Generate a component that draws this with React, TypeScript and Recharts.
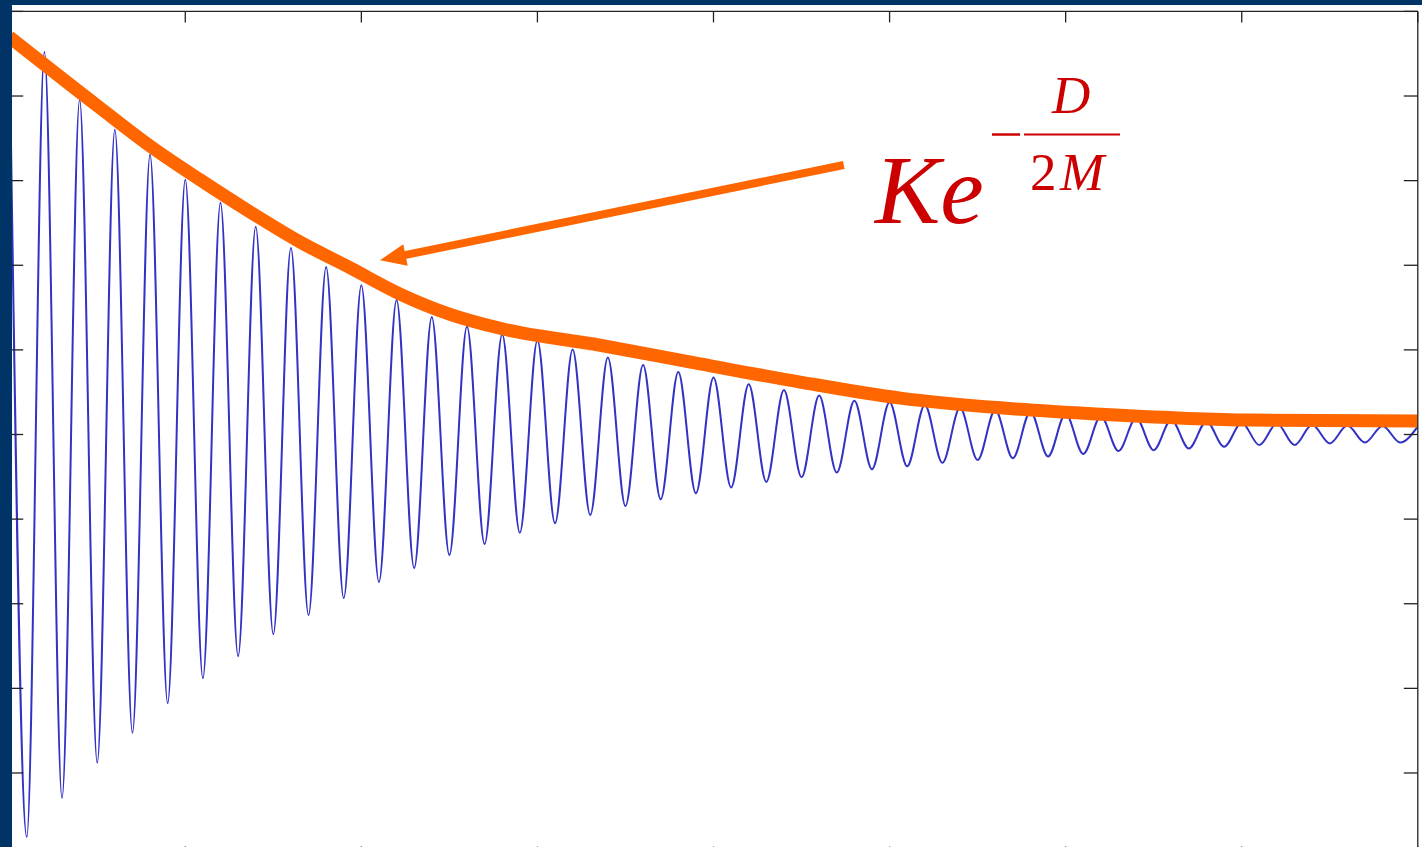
import { LineChart, Line, XAxis, YAxis, ReferenceLine } from "recharts";

// extrema of the damped swing: time in cycles, amplitude normalised to 1
const swingTimes = [
  0, 0.5, 1, 1.5, 2, 2.5, 3, 3.5, 4, 4.5, 5, 5.5, 6, 6.5, 7, 7.5, 8, 8.5, 9, 9.5,
  10, 10.5, 11, 11.5, 12, 12.5, 13, 13.5, 14, 14.5, 15, 15.5, 16, 16.5, 17, 17.5, 18, 18.5, 19, 19.5,
  20, 20.5, 21, 21.5, 22, 22.5, 23, 23.5, 24, 24.5, 25, 25.5, 26, 26.5, 27, 27.5, 28, 28.5, 29, 29.5,
  30, 30.5, 31, 31.5, 32, 32.5, 33, 33.5, 34, 34.5, 35, 35.5, 36, 36.5, 37, 37.5, 38, 38.5, 39, 39.5,
  40,
];
const swingValues = [
  0.98, -0.951, 0.904, -0.859, 0.791, -0.776, 0.72, -0.705, 0.661, -0.635,
  0.602, -0.576, 0.548, -0.524, 0.491, -0.472, 0.441, -0.427, 0.396, -0.387,
  0.353, -0.349, 0.318, -0.316, 0.278, -0.285, 0.255, -0.259, 0.237, -0.232,
  0.222, -0.21, 0.201, -0.19, 0.182, -0.169, 0.164, -0.153, 0.148, -0.139,
  0.135, -0.125, 0.119, -0.112, 0.105, -0.101, 0.092, -0.09, 0.08, -0.082,
  0.076, -0.075, 0.07, -0.067, 0.063, -0.06, 0.058, -0.056, 0.054, -0.052,
  0.049, -0.046, 0.043, -0.039, 0.039, -0.037, 0.035, -0.033, 0.031, -0.029,
  0.028, -0.025, 0.026, -0.025, 0.023, -0.021, 0.021, -0.019, 0.02, -0.019,
  0.019,
];

// hand-drawn decay envelope K·e^(-D/2M)
const envelopeTimes = [0, 2.58, 4, 5.42, 6.84, 8.26, 9.68, 11.1, 12.52, 13.94, 16.78, 19.62, 22.46, 25.31, 28.15, 30.98, 35.24, 40];
const envelopeValues = [0.94, 0.772, 0.682, 0.602, 0.526, 0.455, 0.394, 0.332, 0.284, 0.251, 0.211, 0.167, 0.124, 0.086, 0.063, 0.048, 0.034, 0.032];

const timeTicks = [0, 5, 10, 15, 20, 25, 30, 35, 40];
const amplitudeTicks = [-1, -0.8, -0.6, -0.4, -0.2, 0, 0.2, 0.4, 0.6, 0.8, 1];

// arrow pointing from the formula to the envelope
const arrowTail = { t: 23.7, v: 0.637 };
const arrowTip = { t: 10.53, v: 0.412 };

const swing = swingTimes.map((t, i) => ({ t, v: swingValues[i] }));
const envelope = envelopeTimes.map((t, i) => ({ t, v: envelopeValues[i] }));

const ORANGE = "#ff6600";
const RED = "#cc0000";
const NAVY = "#003366";
const AXIS = "#222222";
const SERIF = "'Liberation Serif', 'Times New Roman', serif";

const blank = () => "";

function Arrow(props: any) {
  const { x1, y1, x2, y2 } = props;
  const len = Math.hypot(x2 - x1, y2 - y1);
  const ux = (x2 - x1) / len;
  const uy = (y2 - y1) / len;
  const headLen = 26;
  const half = 11;
  const bx = x2 - ux * headLen;
  const by = y2 - uy * headLen;
  return (
    <g>
      <line x1={x1} y1={y1} x2={bx + ux * 2} y2={by + uy * 2} stroke={ORANGE} strokeWidth={8} />
      <polygon
        points={`${x2},${y2} ${bx - uy * half},${by + ux * half} ${bx + uy * half},${by - ux * half}`}
        fill={ORANGE}
      />
    </g>
  );
}

const axisLine = { stroke: AXIS, strokeWidth: 1.3 };
const tickLine = { stroke: AXIS, strokeWidth: 1.3 };

export default function App() {
  return (
    <div
      style={{
        position: "fixed",
        left: 0,
        top: 0,
        width: 1422,
        height: 847,
        overflow: "hidden",
        background: "#ffffff",
      }}
    >
      <LineChart
        width={1422}
        height={870}
        margin={{ top: 11.4, right: 4.2, bottom: 12.4, left: 9.2 }}
        style={{ position: "absolute", left: 0, top: 0 }}
      >
        <XAxis
          dataKey="t"
          type="number"
          domain={[0, 40]}
          ticks={timeTicks}
          interval={0}
          allowDataOverflow
          mirror
          height={0.01}
          tickFormatter={blank}
          tickSize={11}
          axisLine={axisLine}
          tickLine={tickLine}
        />
        <XAxis
          xAxisId="top"
          orientation="top"
          dataKey="t"
          type="number"
          domain={[0, 40]}
          ticks={timeTicks}
          interval={0}
          allowDataOverflow
          mirror
          height={0.01}
          tickFormatter={blank}
          tickSize={11}
          axisLine={axisLine}
          tickLine={tickLine}
        />
        <YAxis
          type="number"
          domain={[-1, 1]}
          ticks={amplitudeTicks}
          interval={0}
          allowDataOverflow
          mirror
          width={0.01}
          tickFormatter={blank}
          tickSize={14}
          axisLine={axisLine}
          tickLine={tickLine}
        />
        <YAxis
          yAxisId="right"
          orientation="right"
          type="number"
          domain={[-1, 1]}
          ticks={amplitudeTicks}
          interval={0}
          allowDataOverflow
          mirror
          width={0.01}
          tickFormatter={blank}
          tickSize={14}
          axisLine={axisLine}
          tickLine={tickLine}
        />
        <Line
          data={swing}
          dataKey="v"
          type="monotone"
          stroke="#3232c4"
          strokeWidth={2}
          dot={false}
          activeDot={false}
          isAnimationActive={false}
        />
        <Line
          data={envelope}
          dataKey="v"
          type="monotone"
          stroke={ORANGE}
          strokeWidth={13}
          strokeLinecap="butt"
          dot={false}
          activeDot={false}
          isAnimationActive={false}
        />
        <ReferenceLine
          segment={[
            { x: arrowTail.t, y: arrowTail.v },
            { x: arrowTip.t, y: arrowTip.v },
          ]}
          shape={Arrow}
        />
        <g fill={RED} fontFamily={SERIF}>
          <text x={875} y={223} fontSize={98} fontStyle="italic">
            Ke
          </text>
          <line x1={992} y1={134.5} x2={1020} y2={134.5} stroke={RED} strokeWidth={2.5} />
          <line x1={1024} y1={134.5} x2={1120} y2={134.5} stroke={RED} strokeWidth={2} />
          <text x={1052} y={113} fontSize={53} fontStyle="italic">
            D
          </text>
          <text x={1030} y={190} fontSize={53}>
            2
            <tspan x={1060} fontStyle="italic">
              M
            </tspan>
          </text>
        </g>
      </LineChart>
      <div style={{ position: "absolute", left: 0, top: 0, width: 12, height: 847, background: NAVY }} />
      <div style={{ position: "absolute", left: 0, top: 0, width: 1422, height: 5, background: NAVY }} />
    </div>
  );
}
